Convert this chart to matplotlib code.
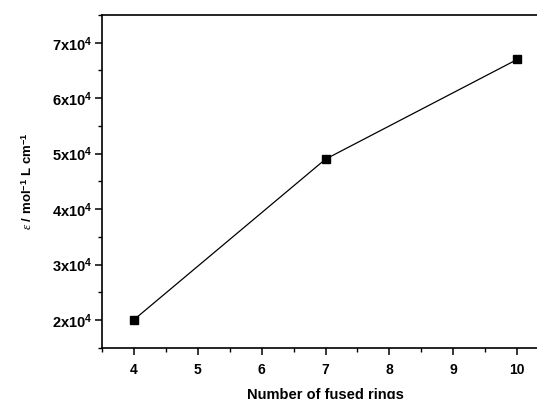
import matplotlib
matplotlib.use('Agg')
import matplotlib.pyplot as plt
from matplotlib.ticker import MultipleLocator, FuncFormatter

# data
rings = [4, 7, 10]
epsilon = [2.0e4, 4.9e4, 6.7e4]

plt.rcParams['font.family'] = ['Liberation Sans', 'DejaVu Sans']
plt.rcParams['mathtext.fontset'] = 'custom'
plt.rcParams['mathtext.rm'] = 'Liberation Sans'
plt.rcParams['mathtext.bf'] = 'Liberation Sans:bold'
plt.rcParams['mathtext.it'] = 'Liberation Serif:italic'

fig = plt.figure(figsize=(5.37, 3.99), dpi=100)
# axes run past the right edge of the figure, as in the cropped original
ax = fig.add_axes([0.1894, 0.1286, 0.8335, 0.8338])

ax.plot(rings, epsilon, color='black', lw=0.9, marker='s', ms=6,
        mfc='black', mec='black')

ax.set_xlim(3.5, 10.5)
ax.set_ylim(1.5e4, 7.5e4)
ax.xaxis.set_major_locator(MultipleLocator(1))
ax.xaxis.set_minor_locator(MultipleLocator(0.5))
ax.yaxis.set_major_locator(MultipleLocator(1e4))
ax.yaxis.set_minor_locator(MultipleLocator(5e3))
ax.yaxis.set_major_formatter(FuncFormatter(
    lambda v, p: r'$\mathbf{%dx10^{4}}$' % round(v / 1e4)))

for s in ['left', 'bottom', 'top', 'right']:
    ax.spines[s].set_linewidth(1.2)
ax.tick_params(which='major', direction='out', length=5, width=1.1)
ax.tick_params(which='minor', direction='out', length=3, width=1.0)
ax.tick_params(axis='x', labelsize=10, pad=6)
ax.tick_params(axis='y', labelsize=10.5, pad=2)
for lab in ax.get_xticklabels():
    lab.set_fontweight('bold')

ax.set_xlabel('Number of fused rings', fontsize=10.5, fontweight='bold',
              labelpad=8)
ax.set_ylabel(r'$\mathit{\varepsilon}$ / mol$^{\mathbf{-1}}$ L cm$^{\mathbf{-1}}$',
              fontsize=9.5, fontweight='bold', labelpad=12)

fig.savefig('out.png', dpi=100)
